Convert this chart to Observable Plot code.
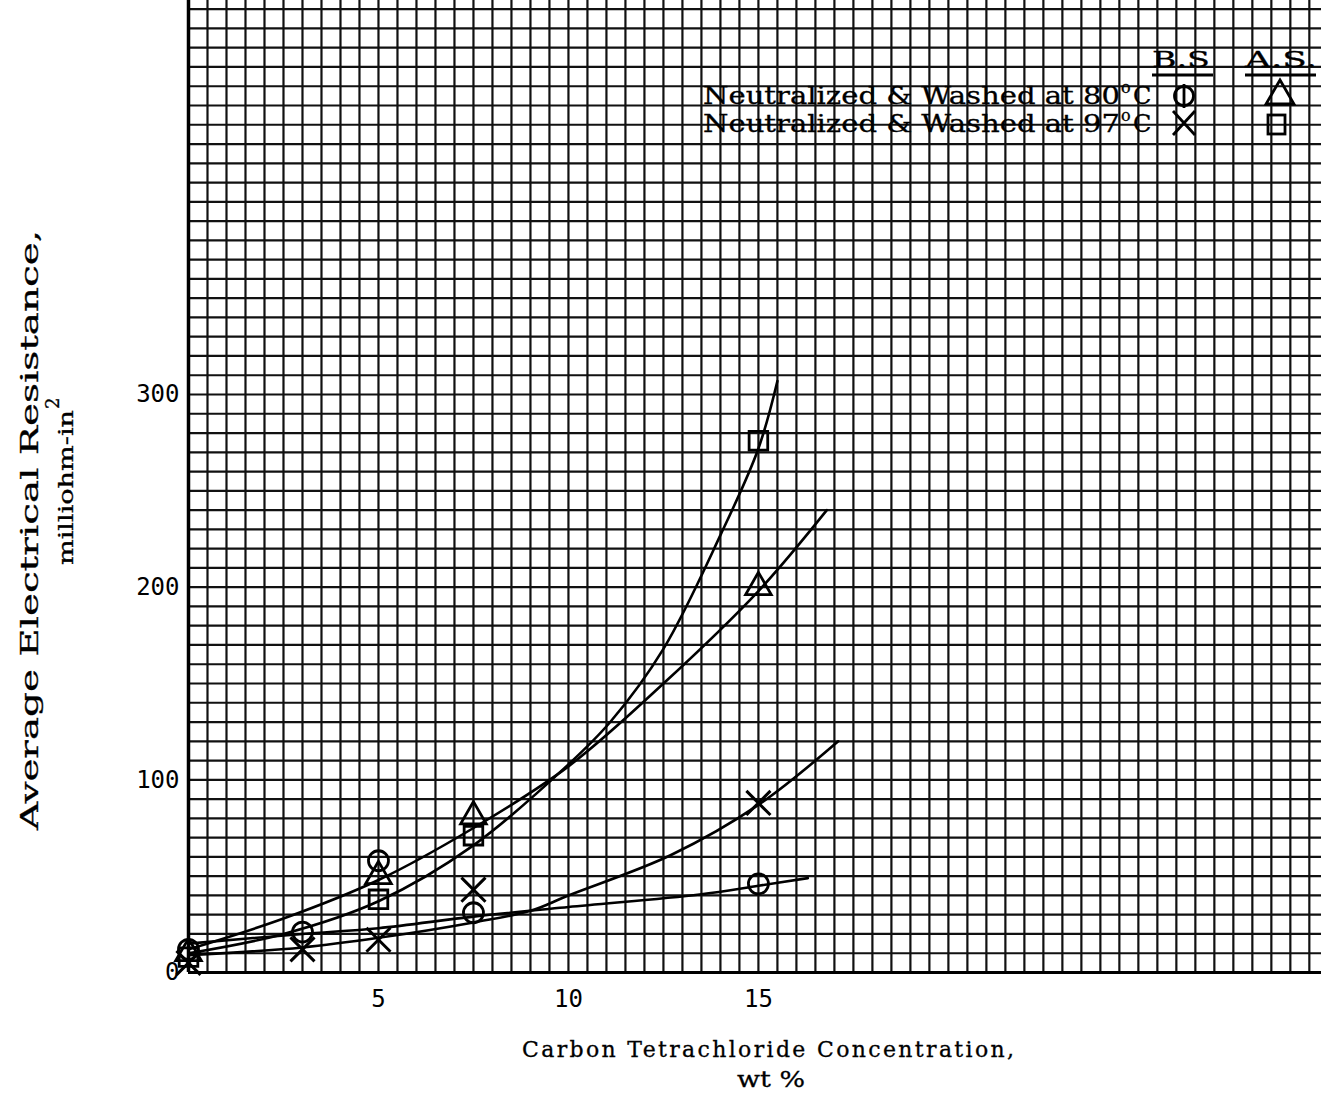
<!DOCTYPE html>
<html><head><meta charset="utf-8">
<script src="https://cdn.jsdelivr.net/npm/d3@7"></script>
<script src="https://cdn.jsdelivr.net/npm/@observablehq/plot@0.6"></script>
<style>
html,body{margin:0;padding:0;background:#fff;}
body{width:1321px;height:1098px;overflow:hidden;position:relative;}
#chart{position:absolute;left:0;top:0;}
#overlay{position:absolute;left:0;top:0;pointer-events:none;}
</style></head><body>
<div id="chart"></div>
<svg id="overlay" width="1321" height="1098" font-family="'DejaVu Serif', serif" fill="#000" stroke="#000" stroke-width="0.3">
  <!-- axis titles -->
  <text x="522" y="1057" font-size="22" textLength="492" lengthAdjust="spacing">Carbon Tetrachloride Concentration,</text>
  <text x="737" y="1087" font-size="23" textLength="68" lengthAdjust="spacingAndGlyphs">wt %</text>
  <text transform="translate(38,830) rotate(-90)" font-size="25" textLength="600" lengthAdjust="spacingAndGlyphs">Average Electrical Resistance,</text>
  <text transform="translate(73,565) rotate(-90)" font-size="21" textLength="155" lengthAdjust="spacingAndGlyphs">milliohm-in</text>
  <text transform="translate(59,409) rotate(-90)" font-size="18">2</text>
  <!-- legend -->
  <text x="1152" y="67" font-size="23" textLength="58" lengthAdjust="spacingAndGlyphs">B.S</text>
  <text x="1245" y="67" font-size="23" textLength="72" lengthAdjust="spacingAndGlyphs">A.S.</text>
  <text x="703" y="104" font-size="24" textLength="417" lengthAdjust="spacingAndGlyphs">Neutralized &amp;  Washed at 80</text>
  <text x="1121" y="93" font-size="16">o</text>
  <text x="1133" y="104" font-size="24">C</text>
  <text x="703" y="132" font-size="24" textLength="417" lengthAdjust="spacingAndGlyphs">Neutralized &amp;  Washed at 97</text>
  <text x="1121" y="121" font-size="16">o</text>
  <text x="1133" y="132" font-size="24">C</text>
</svg>
<svg id="legendSyms" width="1321" height="160" style="position:absolute;left:0;top:0;pointer-events:none">
  <g fill="none" stroke="#000" stroke-width="2.8">
    <line x1="1152" y1="75" x2="1213" y2="75"/>
    <line x1="1245" y1="75" x2="1316" y2="75"/>
    <circle cx="1184" cy="96" r="9.5"/>
    <line x1="1184" y1="84" x2="1184" y2="108"/>
    <line x1="1173" y1="111" x2="1195" y2="135"/>
    <line x1="1195" y1="111" x2="1173" y2="135"/>
    <path d="M1280,80 L1294,104 L1266,104 Z"/>
    <rect x="1268" y="115" width="17" height="19"/>
  </g>
</svg>
<script>
// Axis tick labels
const xTicks = [5, 10, 15];
const yTicks = [0, 100, 200, 300];

// Measured points (wt % CCl4 vs. average resistance, milliohm-in^2)
const bs80X = [0, 3, 5, 7.5, 15];          // circle: 80°C, B.S.
const bs80Y = [12, 21, 58, 31, 46];
const as80X = [0, 5, 7.5, 15];             // triangle: 80°C, A.S.
const as80Y = [10, 50, 81, 200];
const bs97X = [0, 3, 5, 7.5, 15];          // times: 97°C, B.S.
const bs97Y = [5, 12, 17, 43, 88];
const as97X = [0, 5, 7.5, 15];             // square: 97°C, A.S.
const as97Y = [8, 38, 71, 276];

// Hand-drawn fitted curves
const fitBs80X = [0, 3, 5, 7.5, 10, 13.45, 15, 16.3];
const fitBs80Y = [15, 20, 23, 29, 34, 40.5, 45, 49];
const fitAs80X = [0, 2.5, 5, 7.5, 10, 12.5, 15, 16.8];
const fitAs80Y = [12, 28, 48, 75, 107, 150, 198, 240];
const fitBs97X = [0, 3, 5, 7.5, 9, 10, 12.7, 15, 17.1];
const fitBs97Y = [9, 13, 18, 26, 32, 40, 61, 87, 120];
const fitAs97X = [0, 2.5, 5, 7.5, 10, 11.1, 12.5, 14, 15, 15.5];
const fitAs97Y = [10, 20, 37, 66, 108, 130, 168, 227, 272, 307];

const pts = (xs, ys) => xs.map((x, i) => ({x, y: ys[i]}));

const xGrid = d3.range(0, 30, 0.5);
const yGrid = d3.range(0, 510, 10);

const ink = "#111";
const lineOpts = {x: "x", y: "y", curve: "catmull-rom", stroke: "#000", strokeWidth: 2.6};
const chart = Plot.plot({
  width: 1321,
  height: 1020,
  marginLeft: 188,
  marginRight: 0,
  marginTop: 0,
  marginBottom: 48,
  style: {fontFamily: "'DejaVu Sans Mono', monospace", fontSize: "24px", color: "#000", background: "#fff"},
  x: {domain: [0, 29.82], label: null},
  y: {domain: [0, 504.5], label: null},
  marks: [
    Plot.gridX(xGrid, {stroke: ink, strokeOpacity: 1, strokeWidth: 2.2}),
    Plot.gridY(yGrid, {stroke: ink, strokeOpacity: 1, strokeWidth: 2.2}),
    Plot.ruleX([0], {stroke: "#000", strokeWidth: 3.5}),
    Plot.ruleY([0], {stroke: "#000", strokeWidth: 3.2}),
    Plot.axisX(xTicks, {tickSize: 0, tickPadding: 17, fontSize: 24, label: null}),
    Plot.axisY(yTicks, {tickSize: 0, tickPadding: 9, fontSize: 24, label: null}),
    Plot.line(pts(fitBs80X, fitBs80Y), lineOpts),
    Plot.line(pts(fitAs80X, fitAs80Y), lineOpts),
    Plot.line(pts(fitBs97X, fitBs97Y), lineOpts),
    Plot.line(pts(fitAs97X, fitAs97Y), lineOpts),
    Plot.dot(pts(bs80X, bs80Y), {x: "x", y: "y", symbol: "circle", r: 10, stroke: "#000", strokeWidth: 2.8, fill: "none"}),
    Plot.dot(pts(as80X, as80Y), {x: "x", y: "y", symbol: "triangle", r: 9.5, stroke: "#000", strokeWidth: 2.8, fill: "none"}),
    Plot.dot(pts(bs97X, bs97Y), {x: "x", y: "y", symbol: "times", r: 11, stroke: "#000", strokeWidth: 3, fill: "none"}),
    Plot.dot(pts(as97X, as97Y), {x: "x", y: "y", symbol: "square", r: 10.5, stroke: "#000", strokeWidth: 2.8, fill: "none"})
  ]
});
document.getElementById("chart").appendChild(chart);
</script>
</body></html>
